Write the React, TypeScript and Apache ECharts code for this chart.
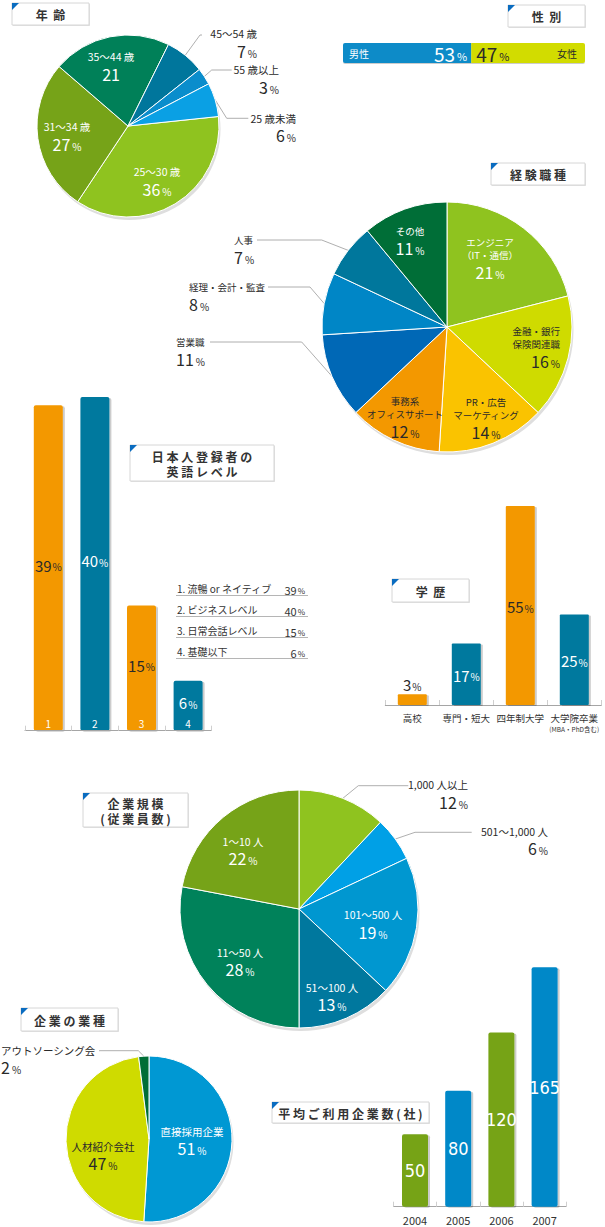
import React, { useEffect, useRef } from 'react';
import * as echarts from 'echarts';

const FONT = '"Noto Sans CJK JP", "Noto Sans", sans-serif';
const NUM_NARROW = '"Liberation Sans Narrow", "DejaVu Sans Condensed", "Noto Sans", sans-serif';

// ---------- data ----------
const AGE_NAMES = ['25～30 歳', '31～34 歳', '35～44 歳', '45～54 歳', '55 歳以上', '25 歳未満'];
const AGE_VALUES = [36, 27, 21, 7, 3, 6];
const AGE_UNITS = ['%', '%', '', '%', '%', '%'];

const GENDER_NAMES = ['男性', '女性'];
const GENDER_VALUES = [53, 47];

const JOB_NAMES = ['エンジニア\n（IT・通信）', '金融・銀行\n保険関連職', 'PR・広告\nマーケティング', '事務系\nオフィスサポート', '営業職', '経理・会計・監査', '人事', 'その他'];
const JOB_VALUES = [21, 16, 14, 12, 11, 8, 7, 11];

const ENGLISH_CATS = ['1', '2', '3', '4'];
const ENGLISH_LABELS = ['流暢 or ネイティブ', 'ビジネスレベル', '日常会話レベル', '基礎以下'];
const ENGLISH_VALUES = [39, 40, 15, 6];

const EDU_CATS = ['高校', '専門・短大', '四年制大学', '大学院卒業\n(MBA・PhD含む)'];
const EDU_VALUES = [3, 17, 55, 25];

const SIZE_NAMES = ['1,000 人以上', '501～1,000 人', '101～500 人', '51～100 人', '11～50 人', '1～10 人'];
const SIZE_VALUES = [12, 6, 19, 13, 28, 22];

const INDUSTRY_NAMES = ['直接採用企業', '人材紹介会社', 'アウトソーシング会'];
const INDUSTRY_VALUES = [51, 47, 2];

const YEARS = ['2004', '2005', '2006', '2007'];
const COMPANY_COUNTS = [50, 80, 120, 165];

// ---------- styles ----------
const DARK = '#2a2a2a';
const WHITE = '#ffffff';
const ORANGE = '#f39800';
const TEAL = '#00799e';
const OLIVE = '#76a318';
const BLUE = '#0088c8';

const AGE_COLORS = ['#8fc31f', '#76a318', '#008058', '#00769c', '#0a8dcc', '#0aa0e4'];
const AGE_TEXT = [WHITE, WHITE, WHITE, DARK, DARK, DARK];
const GENDER_COLORS = ['#0a8bc8', '#d2dc00'];
const JOB_COLORS = ['#8fc31f', '#cfdb00', '#fac300', '#f39800', '#0068b6', '#0086c6', '#00779c', '#006e37'];
const JOB_TEXT = [WHITE, DARK, DARK, DARK, DARK, DARK, DARK, WHITE];
const SIZE_COLORS = ['#8fc31f', '#00a0e6', '#0097d0', '#00789e', '#00825a', '#76a318'];
const SIZE_TEXT = [DARK, DARK, WHITE, WHITE, WHITE, WHITE];
const INDUSTRY_COLORS = ['#0098d3', '#cfdb00', '#006e37'];
const INDUSTRY_TEXT = [WHITE, DARK, DARK];
const ENGLISH_COLORS = [ORANGE, TEAL, ORANGE, TEAL];
const ENGLISH_TEXT = [DARK, WHITE, DARK, WHITE];
const EDU_COLORS = [ORANGE, TEAL, ORANGE, TEAL];
const EDU_TEXT = [DARK, WHITE, DARK, WHITE];
const COUNT_COLORS = [OLIVE, BLUE, OLIVE, BLUE];

// pie geometry
const AGE_PIE = { cx: 128, cy: 126, r: 91, start: 6 };
const JOB_PIE = { cx: 447, cy: 327, r: 125, start: 90 };
const SIZE_PIE = { cx: 299, cy: 909, r: 119, start: 90 };
const IND_PIE = { cx: 149, cy: 1139, r: 83, start: 90 };

type Pos = { x: number; y: number; align: string; line?: number[][] };

const AGE_POS: Pos[] = [
  { x: 157, y: 165, align: 'center' },
  { x: 67, y: 120, align: 'center' },
  { x: 111, y: 50, align: 'center' },
  { x: 257, y: 27, align: 'right', line: [[200, 35], [202, 35]] },
  { x: 279, y: 63, align: 'right', line: [[211.7, 70], [231.7, 70]] },
  { x: 296, y: 111.5, align: 'right', line: [[226.7, 118.3], [248.3, 118.3]] },
];
const JOB_POS: Pos[] = [
  { x: 490, y: 235, align: 'center' },
  { x: 560, y: 324, align: 'right' },
  { x: 486, y: 395, align: 'center' },
  { x: 405, y: 394, align: 'center' },
  { x: 176, y: 335, align: 'left', line: [[301.7, 342], [210, 342]] },
  { x: 189, y: 280, align: 'left', line: [[310, 287], [268, 287]] },
  { x: 234, y: 233, align: 'left', line: [[321.7, 240], [257, 240]] },
  { x: 410, y: 224, align: 'center' },
];
const SIZE_POS: Pos[] = [
  { x: 468, y: 778, align: 'right', line: [[358.3, 785.7], [408.3, 785.7]] },
  { x: 548, y: 824.5, align: 'right', line: [[415, 832.3], [471.7, 832.3]] },
  { x: 373, y: 908, align: 'center' },
  { x: 332, y: 980.5, align: 'center' },
  { x: 240, y: 945.5, align: 'center' },
  { x: 243, y: 834.5, align: 'center' },
];
const IND_POS: Pos[] = [
  { x: 192, y: 1124.5, align: 'center' },
  { x: 103, y: 1139.5, align: 'center' },
  { x: 1, y: 1043.5, align: 'left', line: [[138.3, 1050.7], [99, 1050.7]] },
];

function pieRich(nameSize: number) {
  return {
    n: { fontSize: nameSize, lineHeight: 13, fontFamily: FONT },
    v: { fontSize: 16, lineHeight: 19, fontFamily: FONT, verticalAlign: 'bottom' },
    p: { fontSize: 10, lineHeight: 19, fontFamily: FONT, verticalAlign: 'bottom', padding: [0, 0, 1, 2] },
  };
}

function pieSeries(names: string[], values: number[], colors: string[], textColors: string[], units: string[] | null, geo: any, pos: Pos[], nameSize: number) {
  return {
    type: 'pie',
    center: [geo.cx, geo.cy],
    radius: geo.r,
    startAngle: geo.start,
    clockwise: true,
    avoidLabelOverlap: false,
    itemStyle: { borderColor: '#ffffff', borderWidth: 1 },
    label: {
      show: true,
      position: 'inside',
      fontFamily: FONT,
      rich: pieRich(nameSize),
      formatter: (p: any) => {
        const unit = units ? units[p.dataIndex] : '%';
        const lines = String(p.name).split('\n').map((s) => `{n|${s}}`);
        lines.push(`{v|${p.value}}` + (unit ? `{p|${unit}}` : ''));
        return lines.join('\n');
      },
    },
    labelLine: { show: false },
    labelLayout: (params: any) => {
      const p = pos[params.dataIndex];
      const out: any = { x: p.x, y: p.y, align: p.align, verticalAlign: 'top' };
      if (p.line && params.labelLinePoints) {
        const s = params.labelLinePoints[0];
        out.labelLinePoints = [[s[0], s[1]], p.line[0], p.line[1]];
      }
      return out;
    },
    data: names.map((name, i) => ({
      name,
      value: values[i],
      itemStyle: { color: colors[i] },
      label: { position: pos[i].line ? 'outside' : 'inside', color: textColors[i] },
      labelLine: pos[i].line
        ? { show: true, length: 10, length2: 10, lineStyle: { color: '#9a9a9a', width: 0.8 } }
        : { show: false },
    })),
  };
}

const BAR_SHADOW = { shadowColor: 'rgba(0,0,0,0.2)', shadowBlur: 1, shadowOffsetX: 2, shadowOffsetY: 1 };

function titleBox(x: number, y: number, w: number, h: number, text: string) {
  return [
    { type: 'rect', z: 50, silent: true, shape: { x: x + 1, y: y + 1, width: w, height: h }, style: { fill: '#e2e2e2' } },
    { type: 'rect', z: 51, silent: true, shape: { x, y, width: w, height: h }, style: { fill: '#ffffff', stroke: '#d6d6d6', lineWidth: 1 } },
    { type: 'polygon', z: 52, silent: true, shape: { points: [[x, y], [x + 7, y], [x, y + 7]] }, style: { fill: '#0a6cc0' } },
    {
      type: 'text', z: 53, silent: true, x: x + w / 2, y: y + h / 2 + 0.5,
      style: { text, fill: '#333333', fontSize: 12, fontWeight: 'bold', fontFamily: FONT, align: 'center', verticalAlign: 'middle', lineHeight: 15 },
    },
  ];
}

function pieShadow(geo: any) {
  return { type: 'circle', z: 0, silent: true, shape: { cx: geo.cx + 1.5, cy: geo.cy + 3, r: geo.r }, style: { fill: '#dedede' } };
}

const PCT_RICH = {
  v: { fontSize: 15, fontFamily: FONT, verticalAlign: 'bottom', lineHeight: 17 },
  p: { fontSize: 10, fontFamily: FONT, verticalAlign: 'bottom', lineHeight: 17, padding: [0, 0, 1, 1] },
};

function buildOption() {
  const axisLineStyle = { lineStyle: { color: '#a5a5a5', width: 1 } };
  const axisTick = { show: true, inside: true, length: 5, lineStyle: { color: '#cfcfcf' } };

  const legendGraphics: any[] = [];
  ENGLISH_LABELS.forEach((lab, i) => {
    const ty = 588.5 + i * 21;
    legendGraphics.push({
      type: 'text', z: 20, silent: true, x: 177, y: ty,
      style: { text: `${i + 1}. ${lab}`, fill: '#333333', fontSize: 10, fontFamily: FONT, align: 'left', verticalAlign: 'middle' },
    });
    legendGraphics.push({
      type: 'text', z: 20, silent: true, x: 305, y: ty,
      style: {
        text: `{v|${ENGLISH_VALUES[i]}}{p|%}`, align: 'right', verticalAlign: 'middle',
        rich: {
          v: { fontSize: 11, fontFamily: FONT, fill: '#333333', verticalAlign: 'bottom', lineHeight: 13 },
          p: { fontSize: 8, fontFamily: FONT, fill: '#333333', verticalAlign: 'bottom', lineHeight: 13, padding: [0, 0, 1, 1] },
        },
      },
    });
    legendGraphics.push({
      type: 'line', z: 20, silent: true,
      shape: { x1: 176, y1: ty + 7, x2: 308, y2: ty + 7 },
      style: { stroke: '#b5b5b5', lineWidth: 1 },
    });
  });

  const genderRich = {
    v: { fontSize: 19, fontFamily: FONT, verticalAlign: 'bottom', lineHeight: 20 },
    p: { fontSize: 11, fontFamily: FONT, verticalAlign: 'bottom', lineHeight: 20, padding: [0, 0, 2, 2] },
  };

  return {
    animation: false,
    backgroundColor: '#ffffff',
    textStyle: { fontFamily: FONT },
    grid: [
      { left: 343, top: 43, width: 242, height: 20 },
      { left: 25, top: 397, width: 186.4, height: 333.7 },
      { left: 385.3, top: 506, width: 216, height: 199 },
      { left: 393.4, top: 967.3, width: 172.8, height: 239.4 },
    ],
    xAxis: [
      { gridIndex: 0, type: 'value', min: 0, max: 100, show: false },
      {
        gridIndex: 1, type: 'category', data: ENGLISH_CATS, offset: 2, z: 10,
        axisLine: axisLineStyle, axisTick,
        axisLabel: { inside: true, margin: 4, interval: 0, color: '#ffffff', fontSize: 10, fontFamily: FONT },
      },
      {
        gridIndex: 2, type: 'category', data: EDU_CATS, offset: 3,
        axisLine: axisLineStyle, axisTick,
        axisLabel: {
          interval: 0, margin: 4,
          formatter: (v: string) => v.split('\n').map((s, i) => (i === 0 ? `{a|${s}}` : `{b|${s}}`)).join('\n'),
          rich: {
            a: { fontSize: 9.5, lineHeight: 12, color: '#333333', fontFamily: FONT },
            b: { fontSize: 6.5, lineHeight: 9, color: '#333333', fontFamily: FONT },
          },
        },
      },
      {
        gridIndex: 3, type: 'category', data: YEARS, offset: 4,
        axisLine: axisLineStyle, axisTick,
        axisLabel: { interval: 0, margin: 4, color: '#333333', fontSize: 11, fontFamily: FONT },
      },
    ],
    yAxis: [
      { gridIndex: 0, type: 'category', data: ['性別'], show: false },
      { gridIndex: 1, type: 'value', min: 0, max: 40, show: false },
      { gridIndex: 2, type: 'value', min: 0, max: 55, show: false },
      { gridIndex: 3, type: 'value', min: 0, max: 165, show: false },
    ],
    series: [
      // gender bar
      {
        type: 'bar', xAxisIndex: 0, yAxisIndex: 0, stack: 'g', barWidth: 20, barGap: '-100%',
        data: [{ value: GENDER_VALUES[0], itemStyle: { color: GENDER_COLORS[0], borderRadius: [2, 0, 0, 2], ...BAR_SHADOW, shadowOffsetX: 0 } }],
        label: { show: true, position: 'insideRight', distance: 4, color: '#ffffff', formatter: '{v|{c}}{p|%}', rich: genderRich },
      },
      {
        type: 'bar', xAxisIndex: 0, yAxisIndex: 0, stack: 'g', barWidth: 20, barGap: '-100%',
        data: [{ value: GENDER_VALUES[1], itemStyle: { color: GENDER_COLORS[1], borderRadius: [0, 2, 2, 0], ...BAR_SHADOW, shadowOffsetX: 0 } }],
        label: { show: true, position: 'insideLeft', distance: 5, color: DARK, formatter: '{v|{c}}{p|%}', rich: genderRich },
      },
      {
        type: 'bar', xAxisIndex: 0, yAxisIndex: 0, stack: 'n', barWidth: 20, barGap: '-100%', silent: true, z: 3,
        itemStyle: { color: 'rgba(0,0,0,0)' },
        data: [GENDER_VALUES[0]],
        label: { show: true, position: 'insideLeft', distance: 6, color: '#ffffff', fontSize: 10, fontFamily: FONT, formatter: () => GENDER_NAMES[0] },
      },
      {
        type: 'bar', xAxisIndex: 0, yAxisIndex: 0, stack: 'n', barWidth: 20, barGap: '-100%', silent: true, z: 3,
        itemStyle: { color: 'rgba(0,0,0,0)' },
        data: [GENDER_VALUES[1]],
        label: { show: true, position: 'insideRight', distance: 8, color: DARK, fontSize: 10, fontFamily: FONT, formatter: () => GENDER_NAMES[1] },
      },
      // english level
      {
        type: 'bar', xAxisIndex: 1, yAxisIndex: 1, barWidth: 29,
        itemStyle: { borderRadius: 2, ...BAR_SHADOW },
        label: { show: true, position: 'inside', offset: [0, -4], formatter: '{v|{c}}{p|%}', rich: PCT_RICH },
        data: ENGLISH_VALUES.map((v, i) => ({ value: v, itemStyle: { color: ENGLISH_COLORS[i] }, label: { color: ENGLISH_TEXT[i] } })),
      },
      // education
      {
        type: 'bar', xAxisIndex: 2, yAxisIndex: 2, barWidth: 29,
        itemStyle: { borderRadius: 1, ...BAR_SHADOW },
        label: { show: true, position: 'inside', formatter: '{v|{c}}{p|%}', rich: PCT_RICH },
        data: EDU_VALUES.map((v, i) => ({
          value: v,
          itemStyle: { color: EDU_COLORS[i] },
          label: v < 8 ? { position: 'top', distance: 2, color: DARK } : { color: EDU_TEXT[i] },
        })),
      },
      // company count
      {
        type: 'bar', xAxisIndex: 3, yAxisIndex: 3, barWidth: 26,
        itemStyle: { borderRadius: 2, ...BAR_SHADOW },
        label: { show: true, position: 'inside', color: '#ffffff', fontSize: 18, fontFamily: NUM_NARROW },
        data: COMPANY_COUNTS.map((v, i) => ({ value: v, itemStyle: { color: COUNT_COLORS[i] } })),
      },
      pieSeries(AGE_NAMES, AGE_VALUES, AGE_COLORS, AGE_TEXT, AGE_UNITS, AGE_PIE, AGE_POS, 10.5),
      pieSeries(JOB_NAMES, JOB_VALUES, JOB_COLORS, JOB_TEXT, null, JOB_PIE, JOB_POS, 9.5),
      pieSeries(SIZE_NAMES, SIZE_VALUES, SIZE_COLORS, SIZE_TEXT, null, SIZE_PIE, SIZE_POS, 10.5),
      pieSeries(INDUSTRY_NAMES, INDUSTRY_VALUES, INDUSTRY_COLORS, INDUSTRY_TEXT, null, IND_PIE, IND_POS, 10.5),
    ],
    graphic: {
      elements: [
        pieShadow(AGE_PIE),
        pieShadow(JOB_PIE),
        pieShadow(SIZE_PIE),
        pieShadow(IND_PIE),
        ...titleBox(12, 3, 77, 22, '年  齢'),
        ...titleBox(508, 5, 77, 22, '性  別'),
        ...titleBox(491, 163, 94, 22, '経 験 職 種'),
        ...titleBox(130, 445, 144, 36, '日 本 人 登 録 者 の\n英 語 レ ベ ル'),
        ...titleBox(392, 579, 77, 23, '学  歴'),
        ...titleBox(83, 793, 105, 34, '企 業 規 模\n( 従 業 員 数 )'),
        ...titleBox(21, 1008, 97, 23, '企 業 の 業 種'),
        ...titleBox(272, 1102, 157, 21, '平 均 ご 利 用 企 業 数 ( 社 )'),
        ...legendGraphics,
      ],
    },
  };
}

export default function App() {
  const ref = useRef<HTMLDivElement>(null);
  useEffect(() => {
    if (!ref.current) return;
    const chart = echarts.init(ref.current, undefined, { renderer: 'svg' });
    chart.setOption(buildOption() as any);
    return () => {
      chart.dispose();
    };
  }, []);
  return (
    <div
      ref={ref}
      style={{ position: 'absolute', left: 0, top: 0, width: 605, height: 1227, background: '#ffffff' }}
    />
  );
}
